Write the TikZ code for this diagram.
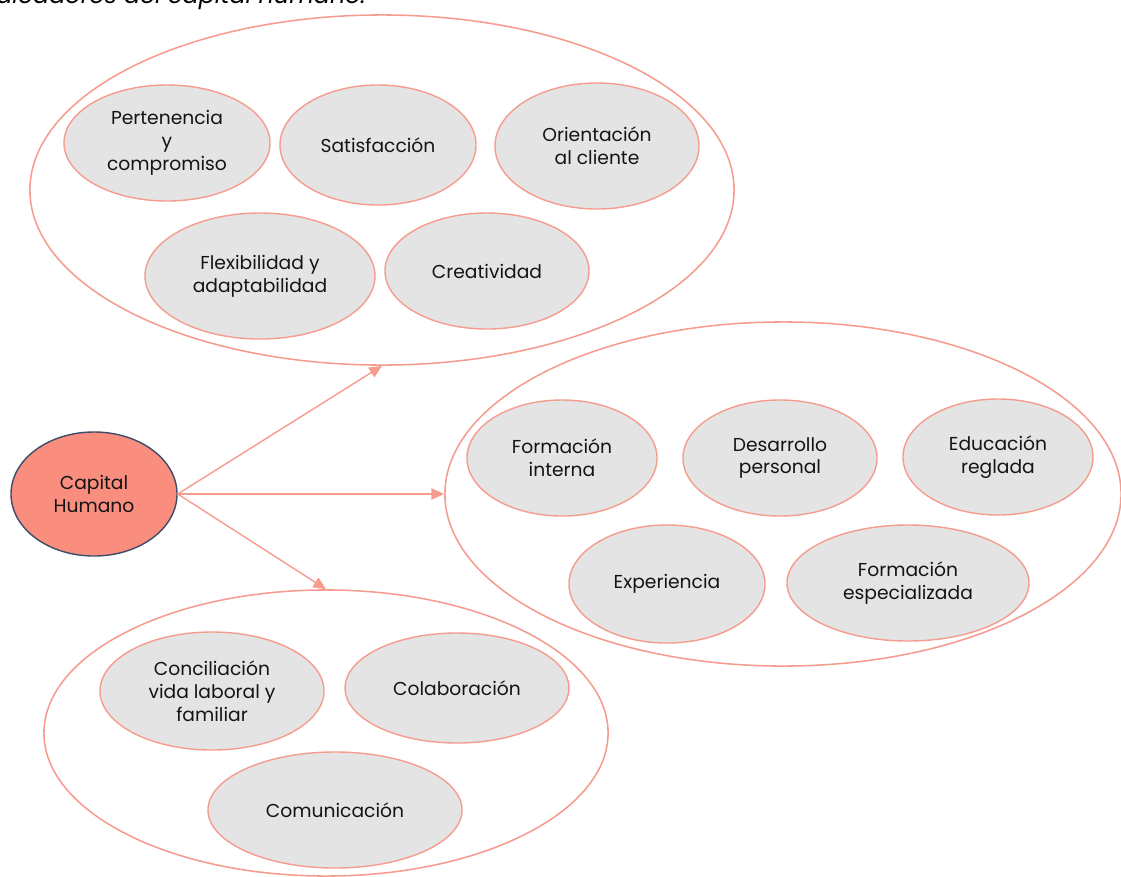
\documentclass[tikz,border=0pt]{standalone}
\usepackage{fontspec}
\setmainfont{Poppins}
\usepackage{xcolor}
\usetikzlibrary{arrows.meta,shapes,positioning,calc}

\definecolor{salmonline}{RGB}{246,156,142}
\definecolor{itemfill}{RGB}{228,228,228}
\definecolor{capfill}{RGB}{249,142,126}
\definecolor{capline}{RGB}{62,76,106}
\definecolor{txt}{RGB}{20,20,20}

\begin{document}
\begin{tikzpicture}[x=0.025cm,y=-0.025cm,
  group/.style={ellipse,draw=salmonline,line width=1.1pt,inner sep=0pt},
  item/.style={ellipse,draw=salmonline,line width=1pt,fill=itemfill,inner sep=0pt,
    align=center,text=txt,font=\fontsize{13.3}{16.3}\selectfont},
  link/.style={draw=salmonline,line width=1pt,-{Triangle[length=9pt,width=8pt]}}]
\useasboundingbox (0,0) rectangle (1121,877);
\begin{scope}
\clip (0,0) rectangle (1121,877);

% Caption line cut by the page
\node[anchor=base west,inner sep=0pt,font=\fontsize{17}{20}\selectfont\itshape] (cap-text) at (-4,3) {aleadores del capital humano.};

% Groups
\node[group,minimum width=17.6cm,minimum height=8.75cm] (actitudes) at (382,190) {};
\node[group,minimum width=16.9cm,minimum height=8.6cm] (saber) at (783,494) {};
\node[group,minimum width=14.1cm,minimum height=7.15cm] (entorno) at (326,733) {};

% Top group
\node[item,minimum width=5.15cm,minimum height=2.9cm] (pertenencia) at (167,143) {Pertenencia\\y\\compromiso};
\node[item,minimum width=4.9cm,minimum height=3.0cm] (satisfaccion) at (378,145) {Satisfacción};
\node[item,minimum width=5.1cm,minimum height=3.15cm] (orientacion) at (597,146) {Orientación\\al cliente};
\node[item,minimum width=5.75cm,minimum height=3.15cm] (flexibilidad) at (260,276) {Flexibilidad y\\adaptabilidad};
\node[item,minimum width=5.1cm,minimum height=2.9cm] (creatividad) at (487,271) {Creatividad};

% Right group
\node[item,minimum width=4.75cm,minimum height=2.9cm] (finterna) at (562,458) {Formación\\interna};
\node[item,minimum width=4.85cm,minimum height=2.9cm] (desarrollo) at (780,458) {Desarrollo\\personal};
\node[item,minimum width=4.75cm,minimum height=2.9cm] (educacion) at (998,457) {Educación\\reglada};
\node[item,minimum width=4.9cm,minimum height=2.95cm] (experiencia) at (667,584) {Experiencia};
\node[item,minimum width=6.05cm,minimum height=2.9cm] (fespecial) at (908,583) {Formación\\especializada};

% Bottom group
\node[item,minimum width=5.6cm,minimum height=2.95cm] (conciliacion) at (212,691) {Conciliación\\vida laboral y\\familiar};
\node[item,minimum width=5.6cm,minimum height=2.75cm] (colaboracion) at (457,688) {Colaboración};
\node[item,minimum width=6.35cm,minimum height=2.9cm] (comunicacion) at (335,810) {Comunicación};

% Centre
\node[ellipse,draw=capline,line width=1pt,fill=capfill,inner sep=0pt,align=center,text=txt,
  font=\fontsize{13.3}{16.3}\selectfont,minimum width=4.15cm,minimum height=3.1cm] (capital) at (94,494) {Capital\\Humano};

% Links
\draw[link] (capital.east) -- (actitudes.south);
\draw[link] (capital.east) -- (saber.west);
\draw[link] (capital.east) -- (entorno.north);
\end{scope}
\end{tikzpicture}
\end{document}
